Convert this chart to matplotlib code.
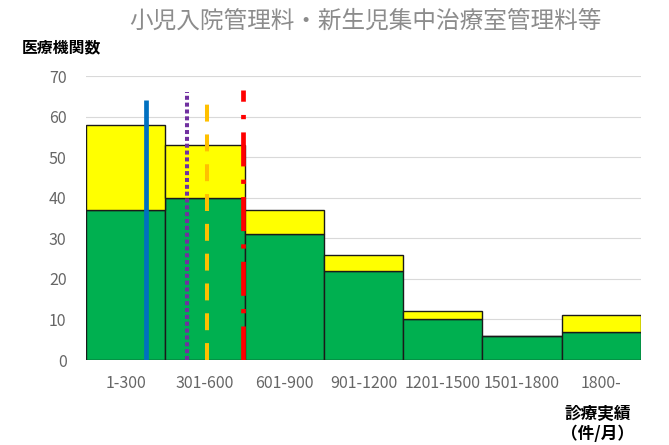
import matplotlib
matplotlib.use("Agg")
import matplotlib.pyplot as plt

plt.rcParams['font.family'] = ['Noto Sans CJK JP', 'DejaVu Sans']

categories = ['1-300', '301-600', '601-900', '901-1200', '1201-1500', '1501-1800', '1800-']
green_vals = [37, 40, 31, 22, 10, 6, 7]
total_vals = [58, 53, 37, 26, 12, 6, 11]
yellow_vals = [t - g for t, g in zip(total_vals, green_vals)]

# reference lines (x in category units, top in counts)
line_x = [0.26, 0.77, 1.03, 1.48]
line_top = [64, 66, 64, 66.5]
line_colors = ['#0070C0', '#7030A0', '#FFC000', '#FF0000']
line_styles = ['-', (0, (1, 0.7)), (0, (4.2, 3.2)), (0, (7.2, 2.8, 0.9, 2.8))]
line_widths = [3.4, 2.9, 2.9, 3.4]

fig = plt.figure(figsize=(6.69, 4.45), dpi=100)
ax = fig.add_axes([0.1286, 0.191, 0.8295, 0.638])

x = range(len(categories))
ax.bar(x, green_vals, width=1.0, color='#00B050', edgecolor='#1a1a1a', linewidth=1, zorder=2)
ax.bar(x, yellow_vals, bottom=green_vals, width=1.0, color='#FFFF00', edgecolor='#1a1a1a', linewidth=1, zorder=2)

for lx, lt, c, ls, lw in zip(line_x, line_top, line_colors, line_styles, line_widths):
    ax.plot([lx, lx], [0, lt], color=c, linestyle=ls, linewidth=lw, zorder=3,
            solid_capstyle='butt', dash_capstyle='butt')

ax.set_xlim(-0.5, 6.5)
ax.set_ylim(0, 70)
ax.set_yticks(range(0, 71, 10))
ax.set_xticks(list(x))
ax.set_xticklabels(categories)
ax.yaxis.grid(True, color='#d9d9d9', linewidth=0.8, zorder=0)
ax.set_axisbelow(True)
for s in ['top', 'right', 'left', 'bottom']:
    ax.spines[s].set_visible(False)
ax.tick_params(axis='both', length=0, labelsize=11.5, colors='#666666', pad=11)
ax.tick_params(axis='y', pad=14)

fig.text(0.546, 0.953, '小児入院管理料・新生児集中治療室管理料等', ha='center', va='center',
         fontsize=17, color='#8c8c8c')
fig.text(0.033, 0.893, '医療機関数', ha='left', va='center', fontsize=11.4, fontweight='bold')
fig.text(0.893, 0.047, '診療実績\n（件/月）', ha='center', va='center', fontsize=12,
         fontweight='bold', linespacing=1.15)

fig.savefig('out.png', dpi=100)
